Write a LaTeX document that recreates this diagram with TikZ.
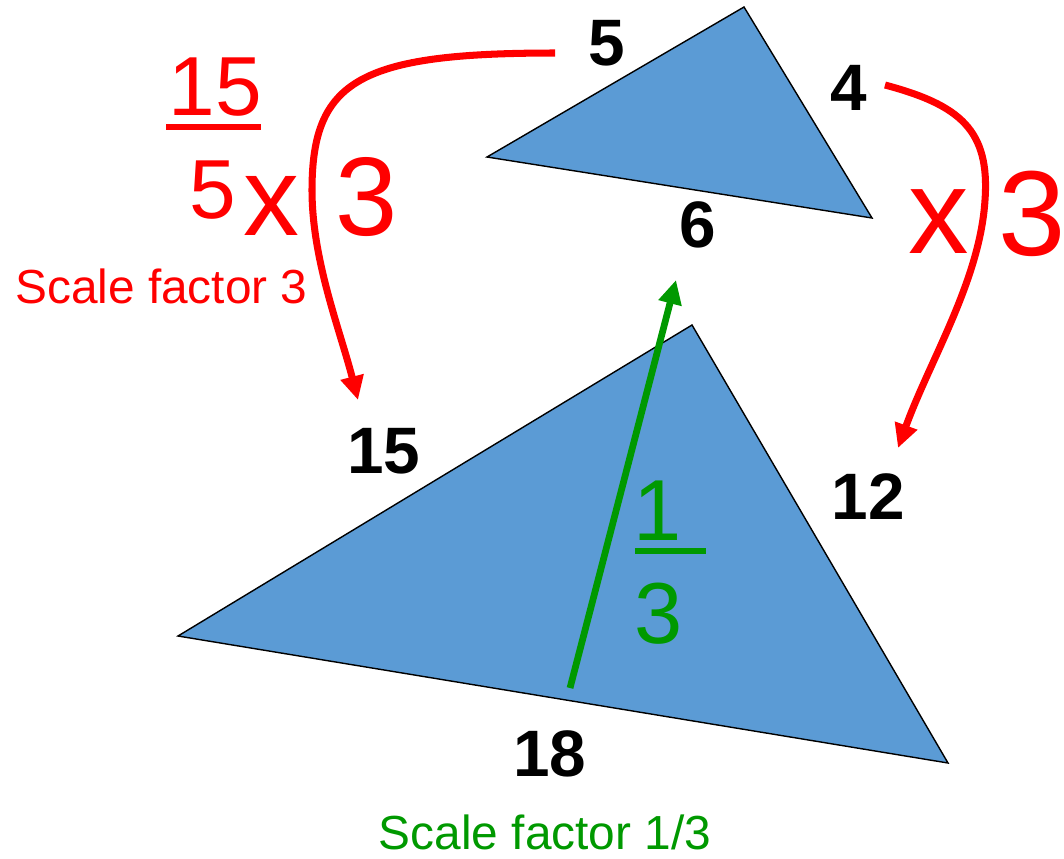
\documentclass[tikz,border=0pt]{standalone}
\usepackage{fontspec}
\setmainfont{Liberation Sans}
\usetikzlibrary{arrows.meta}
\definecolor{triblue}{HTML}{5B9BD5}
\definecolor{myred}{HTML}{FF0000}
\definecolor{mygreen}{HTML}{009900}
\tikzset{
  tri/.style={fill=triblue,draw=black,line width=1pt,line join=miter},
  side/.style={inner sep=0pt,anchor=base,font=\fontsize{46.7pt}{50pt}\selectfont\bfseries},
  redtxt/.style={inner sep=0pt,anchor=base,text=myred},
  greentxt/.style={inner sep=0pt,anchor=base,text=mygreen},
  redarrow/.style={draw=myred,line width=5pt,-{Triangle[length=17pt,width=16pt]}},
  greenarrow/.style={draw=mygreen,line width=4.8pt,-{Triangle[length=17pt,width=16pt]}},
}
\begin{document}
\begin{tikzpicture}[x=0.025cm,y=-0.025cm]
\useasboundingbox (0,0) rectangle (1064,858);
% triangles
\coordinate (sA) at (487,157);
\coordinate (sB) at (744,7);
\coordinate (sC) at (872,218);
\coordinate (bA) at (178,636);
\coordinate (bB) at (692,325);
\coordinate (bC) at (948,763);
\draw[tri] (sA) -- (sB) -- (sC) -- cycle;
\draw[tri] (bA) -- (bB) -- (bC) -- cycle;
% side labels
\node[side] (l5) at (607,65) {5};
\node[side] (l4) at (849,110) {4};
\node[side] (l6) at (698,247) {6};
\node[side] (l15) at (384,473) {15};
\node[side] (l12) at (868,519) {12};
\node[side] (l18) at (550,776) {18};
% red annotations
\node[redtxt,font=\fontsize{59.6pt}{62pt}\selectfont] (f15) at (215.5,115) {15};
\draw[myred,line width=4.3pt] (166,127) -- (261,127);
\node[redtxt,font=\fontsize{59.6pt}{62pt}\selectfont] (f5) at (213,218) {5};
\node[redtxt,font=\fontsize{79.5pt}{82pt}\selectfont] (lx) at (271,235) {x};
\node[redtxt,font=\fontsize{79.5pt}{82pt}\selectfont] (l3) at (367,235) {3};
\node[redtxt,font=\fontsize{86pt}{88pt}\selectfont] (rx) at (938.5,253) {x};
\node[redtxt,font=\fontsize{86pt}{88pt}\selectfont] (r3) at (1032,255) {3};
\node[redtxt,anchor=base west,font=\fontsize{34pt}{36pt}\selectfont] (sf3) at (15,303) {Scale factor 3};
% red arrows
\coordinate (ls) at (555,53);
\coordinate (le) at (358,400);
\coordinate (rs) at (885,85);
\coordinate (re) at (898,448);
\draw[redarrow] (ls) .. controls (360,53) and (312,80) .. (312,190) .. controls (312,260) and (340,330) .. (le);
\draw[redarrow] (rs) .. controls (960,105) and (990,130) .. (985,200) .. controls (980,280) and (930,360) .. (re);
% green arrow and fraction
\coordinate (gs) at (570,688);
\coordinate (ge) at (676,280);
\draw[greenarrow] (gs) -- (ge);
\node[greentxt,font=\fontsize{61.6pt}{64pt}\selectfont] (g1) at (658,540) {1};
\draw[mygreen,line width=3.6pt] (635,551) -- (706,551);
\node[greentxt,font=\fontsize{61.6pt}{64pt}\selectfont] (g3) at (659,643) {3};
\node[greentxt,font=\fontsize{34pt}{36pt}\selectfont] (sf13) at (545,849) {Scale factor 1/3};
\end{tikzpicture}
\end{document}
